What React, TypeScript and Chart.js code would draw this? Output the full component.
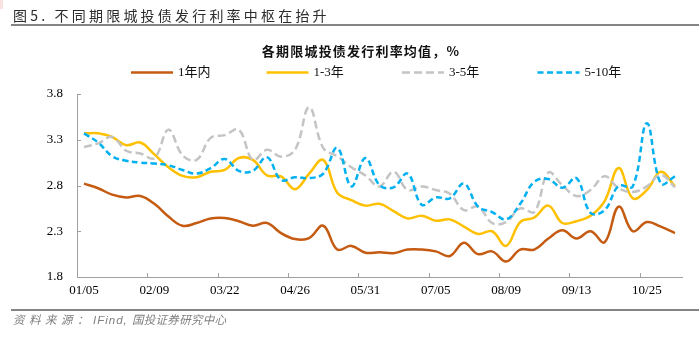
import React, { useEffect, useRef } from "react";
import { Chart, registerables } from "chart.js";

Chart.register(...registerables);

// ---------- data ----------
const dates = [
  "01/05", "01/12", "01/19", "01/26", "02/02", "02/09", "02/23", "03/01", "03/08", "03/15",
  "03/22", "03/29", "04/03", "04/12", "04/19", "04/26", "04/30", "05/10", "05/17", "05/24",
  "05/31", "06/07", "06/14", "06/21", "06/28", "07/05", "07/12", "07/19", "07/26", "08/02",
  "08/09", "08/16", "08/23", "08/30", "09/06", "09/13", "09/20", "09/30", "10/11", "10/18",
  "10/25", "11/01", "11/08",
];

const within1y = [
  2.82, 2.77, 2.70, 2.67, 2.685, 2.60, 2.46, 2.36, 2.39, 2.44,
  2.445, 2.41, 2.36, 2.39, 2.28, 2.215, 2.225, 2.36, 2.10, 2.14,
  2.065, 2.07, 2.06, 2.10, 2.10, 2.08, 2.03, 2.175, 2.05, 2.08,
  1.97, 2.10, 2.10, 2.22, 2.31, 2.22, 2.30, 2.18, 2.57, 2.30,
  2.40, 2.35, 2.28,
];

const y1to3 = [
  3.37, 3.37, 3.33, 3.24, 3.27, 3.14, 3.00, 2.905, 2.89, 2.95,
  2.97, 3.10, 3.08, 2.91, 2.90, 2.76, 2.93, 3.08, 2.72, 2.64,
  2.58, 2.60, 2.52, 2.44, 2.47, 2.415, 2.43, 2.35, 2.27, 2.30,
  2.14, 2.40, 2.45, 2.58, 2.39, 2.41, 2.47, 2.63, 2.99, 2.66,
  2.75, 2.95, 2.79,
];

const y3to5 = [
  3.22, 3.26, 3.33, 3.18, 3.15, 3.10, 3.41, 3.13, 3.08, 3.32,
  3.35, 3.41, 3.08, 3.19, 3.115, 3.19, 3.655, 3.21, 3.12, 3.00,
  2.91, 2.79, 2.95, 2.75, 2.79, 2.75, 2.71, 2.53, 2.57, 2.39,
  2.40, 2.55, 2.51, 2.94, 2.80, 2.685, 2.75, 2.90, 2.77, 2.73,
  2.79, 2.915, 2.78,
];

const y5to10 = [
  3.37, 3.27, 3.12, 3.07, 3.05, 3.04, 3.02, 2.97, 2.93, 2.99,
  3.09, 2.96, 2.96, 3.11, 2.86, 2.89, 2.88, 2.93, 3.21, 2.79,
  3.10, 2.805, 2.78, 2.93, 2.59, 2.67, 2.66, 2.82, 2.57, 2.51,
  2.43, 2.60, 2.84, 2.87, 2.775, 2.88, 2.50, 2.53, 2.795, 2.79,
  3.48, 2.82, 2.90,
];

const seriesNames = ["1年内", "1-3年", "3-5年", "5-10年"];
const seriesData = [within1y, y1to3, y3to5, y5to10];
const yMin = 1.8;
const yMax = 3.8;
const yStep = 0.5;
const labelEvery = 5;

const figureTitle = "图5. 不同期限城投债发行利率中枢在抬升";
const chartTitle = "各期限城投债发行利率均值，%";
const sourceLead = "资料来源：";
const sourceLatin = "IFind, ";
const sourceTail = "国投证券研究中心";

// ---------- styles ----------
const colors = ["#C55A11", "#FFC000", "#C4C4C4", "#00B0F0"];
const dashes: number[][] = [[], [], [8, 4], [6, 3.5]];
const axisColor = "#A0A0A0";
const serifFont = "'Liberation Serif', 'Times New Roman', 'Noto Sans CJK SC', serif";

const decorPlugin = {
  id: "decor",
  afterDraw(chart: any) {
    const { ctx, chartArea } = chart;
    const x = chart.scales.x;
    const y = chart.scales.y;
    ctx.save();
    // inside tick marks
    ctx.strokeStyle = axisColor;
    ctx.lineWidth = 1;
    ctx.beginPath();
    for (let i = labelEvery - 0.5; i < dates.length - 1; i += labelEvery) {
      const px = Math.round(x.getPixelForValue(i)) + 0.5;
      ctx.moveTo(px, chartArea.bottom);
      ctx.lineTo(px, chartArea.bottom - 4);
    }
    for (let v = yMin + yStep; v <= yMax + 1e-9; v += yStep) {
      const py = Math.round(y.getPixelForValue(v)) + 0.5;
      ctx.moveTo(chartArea.left, py);
      ctx.lineTo(chartArea.left + 4, py);
    }
    ctx.stroke();

    // chart title
    ctx.fillStyle = "#111";
    ctx.font = "bold 13px 'Noto Sans CJK SC', sans-serif";
    (ctx as any).letterSpacing = "1.2px";
    ctx.textAlign = "center";
    ctx.textBaseline = "middle";
    ctx.fillText(chartTitle, 361, 51);
    (ctx as any).letterSpacing = "0px";

    // legend
    const legendStart = 131;
    const legendStep = 135.5;
    const legendLine = 42;
    const legendY = 72.5;
    chart.data.datasets.forEach((ds: any, i: number) => {
      const x0 = legendStart + i * legendStep;
      ctx.beginPath();
      ctx.setLineDash(ds.borderDash || []);
      ctx.strokeStyle = ds.borderColor;
      ctx.lineWidth = ds.borderWidth;
      ctx.moveTo(x0, legendY);
      ctx.lineTo(x0 + legendLine, legendY);
      ctx.stroke();
      ctx.setLineDash([]);
      ctx.fillStyle = "#111";
      ctx.font = `13px ${serifFont}`;
      ctx.textAlign = "left";
      ctx.textBaseline = "middle";
      ctx.fillText(ds.label, x0 + legendLine + 5, legendY + 0.5);
    });
    ctx.restore();
  },
};

export default function App() {
  const ref = useRef<HTMLCanvasElement>(null);

  useEffect(() => {
    if (!ref.current) return;
    const chart = new Chart(ref.current, {
      type: "line",
      data: {
        labels: dates,
        datasets: seriesNames.map((name, k) => ({
          label: name,
          data: seriesData[k],
          borderColor: colors[k],
          backgroundColor: colors[k],
          borderWidth: 2.5,
          borderDash: dashes[k],
          pointRadius: 0,
          pointHoverRadius: 0,
          tension: 0.4,
          fill: false,
          order: seriesNames.length - 1 - k,
        })),
      },
      options: {
        responsive: false,
        animation: false,
        devicePixelRatio: 1,
        events: [],
        layout: { padding: { top: 94, right: 17, bottom: 33, left: 0 } },
        plugins: {
          legend: { display: false },
          title: { display: false },
          tooltip: { enabled: false },
        },
        scales: {
          x: {
            type: "category",
            offset: true,
            grid: { display: false, drawTicks: false },
            border: { display: true, color: axisColor, width: 1 },
            ticks: {
              autoSkip: false,
              maxRotation: 0,
              minRotation: 0,
              padding: 6,
              color: "#000",
              font: { family: serifFont, size: 13 },
              callback: (_v: any, i: number) => (i % labelEvery === 0 ? dates[i] : ""),
            },
            afterFit: (s: any) => {
              s.height = 30;
            },
          },
          y: {
            min: yMin,
            max: yMax,
            grid: { display: false, drawTicks: false },
            border: { display: true, color: axisColor, width: 1 },
            ticks: {
              stepSize: yStep,
              padding: 14,
              color: "#000",
              font: { family: serifFont, size: 13 },
              callback: (v: any) => Number(v).toFixed(1),
            },
            afterFit: (s: any) => {
              s.width = 77;
            },
          },
        },
      },
      plugins: [decorPlugin],
    } as any);
    return () => chart.destroy();
  }, []);

  return (
    <div
      style={{
        position: "fixed",
        left: 0,
        top: 0,
        width: 699,
        height: 340,
        background: "#fff",
        overflow: "hidden",
      }}
    >
      <div style={{ position: "absolute", left: 0, top: 0, width: 3, height: 9, background: "#F8E2E2" }} />
      <canvas
        ref={ref}
        width={699}
        height={340}
        style={{ position: "absolute", left: 0, top: 0, width: 699, height: 340 }}
      />
      <div
        style={{
          position: "absolute",
          left: 13,
          top: 7,
          fontFamily: "'Noto Sans CJK SC', sans-serif",
          fontSize: 14,
          lineHeight: "17px",
          letterSpacing: "3.2px",
          color: "#2b2b2b",
          whiteSpace: "nowrap",
        }}
      >
        {figureTitle}
      </div>
      <div style={{ position: "absolute", left: 11, top: 24, width: 688, height: 2, background: "#858585" }} />
      <div style={{ position: "absolute", left: 11, top: 309, width: 688, height: 2, background: "#858585" }} />
      <div
        style={{
          position: "absolute",
          left: 13,
          top: 312,
          fontSize: 11.5,
          lineHeight: "15px",
          fontStyle: "italic",
          color: "#7F7F7F",
          whiteSpace: "nowrap",
          fontFamily: "'Noto Sans CJK SC', sans-serif",
        }}
      >
        <span style={{ letterSpacing: "4.5px" }}>{sourceLead}</span>
        <span style={{ fontFamily: "'Liberation Sans', Arial, sans-serif", letterSpacing: "1px" }}>{sourceLatin}</span>
        <span style={{ letterSpacing: "0.3px" }}>{sourceTail}</span>
      </div>
    </div>
  );
}
